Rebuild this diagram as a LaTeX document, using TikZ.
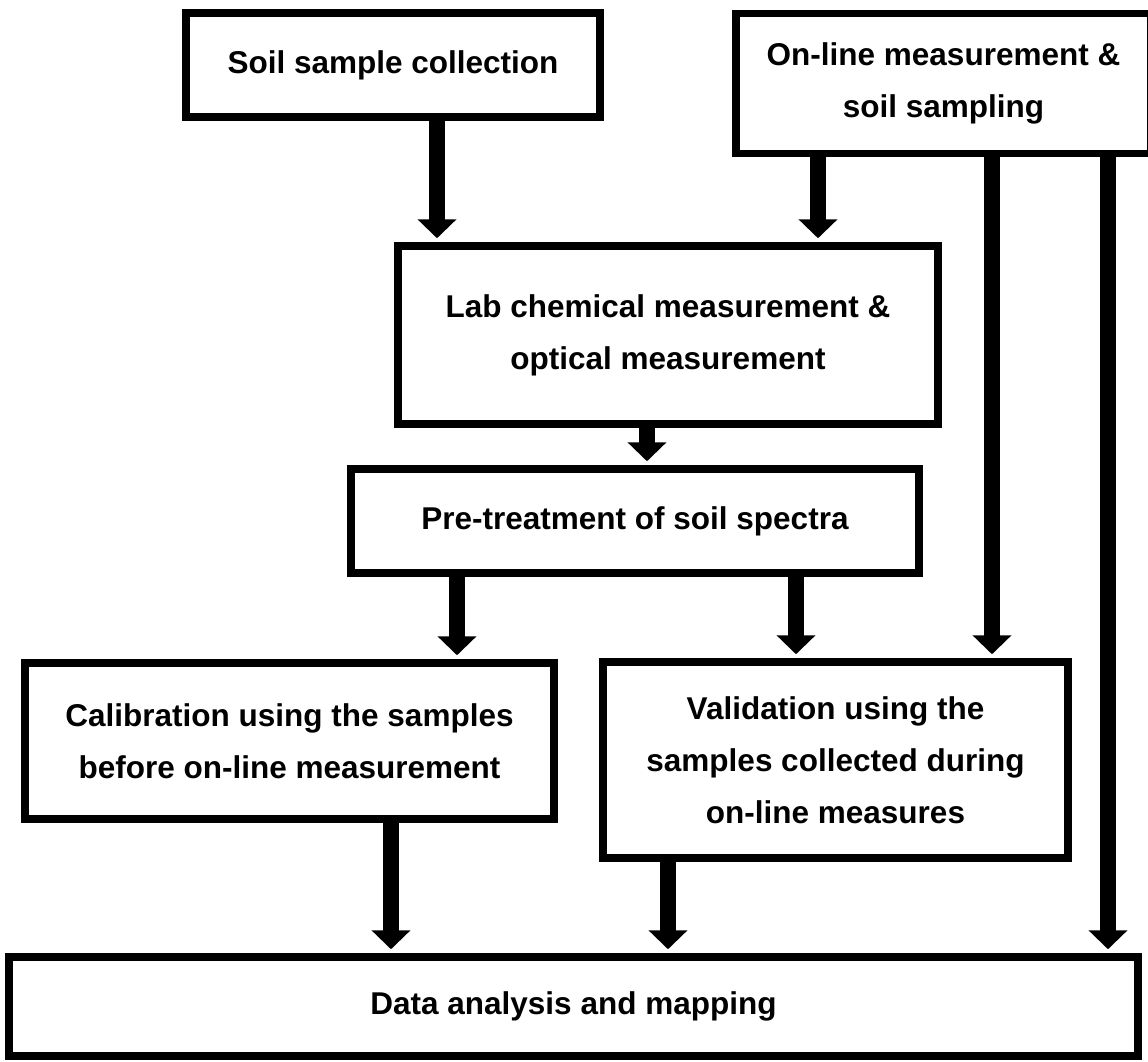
\documentclass[tikz,border=0pt]{standalone}
\usepackage{fontspec}
\setmainfont{Liberation Sans}
\usetikzlibrary{arrows.meta, positioning}

\begin{document}
\begin{tikzpicture}[
  x=1pt, y=-1pt,
  box/.style={draw, line width=7.5pt, align=center, inner sep=0pt, font=\bfseries\fontsize{31.5}{52}\selectfont},
  flow/.style={line width=16pt, -{Triangle[width=38pt,length=19pt]}, shorten >=4pt}
]
\useasboundingbox (0,0) rectangle (1148,1061);
\clip (0,0) rectangle (1148,1061);

\node[box, minimum width=414pt, minimum height=104pt] (collect) at (393,65) {Soil sample collection};
\node[box, minimum width=415pt, minimum height=140pt] (online) at (943.5,83.5) {On-line measurement \&\\soil sampling};
\node[box, minimum width=540pt, minimum height=178pt] (lab) at (668,335) {Lab chemical measurement \&\\optical measurement};
\node[box, minimum width=568pt, minimum height=104pt] (pretreat) at (635,521) {Pre-treatment of soil spectra};
\node[box, minimum width=529pt, minimum height=156pt] (calib) at (289.5,741) {Calibration using the samples\\before on-line measurement};
\node[box, minimum width=465pt, minimum height=196pt] (valid) at (835.5,760) {Validation using the\\samples collected during\\on-line measures};
\node[box, minimum width=1129pt, minimum height=99pt] (mapping) at (573.5,1006.5) {Data analysis and mapping};

\draw[flow] (collect.south -| 437,0) -- (lab.north -| 437,0);
\draw[flow] (online.south -| 818,0) -- (lab.north -| 818,0);
\draw[flow] (online.south -| 992,0) -- (valid.north -| 992,0);
\draw[flow] (online.south -| 1108,0) -- (mapping.north -| 1108,0);
\draw[flow] (lab.south -| 647,0) -- (pretreat.north -| 647,0);
\draw[flow] (pretreat.south -| 457,0) -- (calib.north -| 457,0);
\draw[flow] (pretreat.south -| 796,0) -- (valid.north -| 796,0);
\draw[flow] (calib.south -| 391,0) -- (mapping.north -| 391,0);
\draw[flow] (valid.south -| 668,0) -- (mapping.north -| 668,0);
\end{tikzpicture}
\end{document}
